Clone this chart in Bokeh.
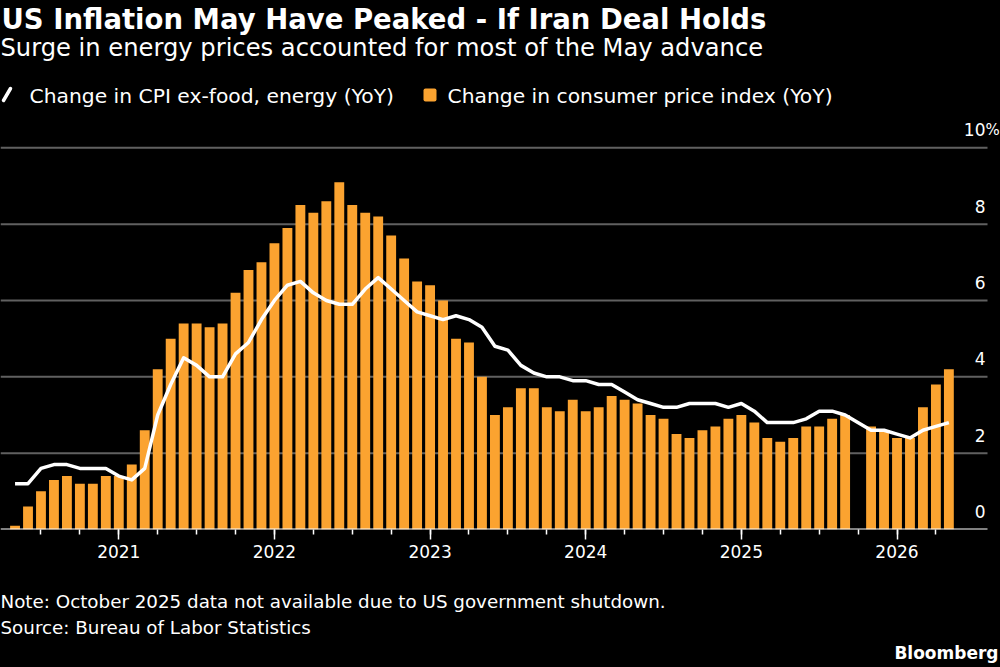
import pandas as pd
from bokeh.plotting import figure
from bokeh.layouts import column
from bokeh.models import Range1d, LinearAxis, FixedTicker, ColumnDataSource
from bokeh.core.properties import value
from bokeh.embed import file_html
from bokeh.resources import INLINE

# ---- data -------------------------------------------------------------
months = [p.strftime("%Y-%m") for p in pd.period_range("2020-05", "2026-05", freq="M")]

# Headline CPI, % change year over year (None = not published)
cpi = [
    0.1, 0.6, 1.0, 1.3, 1.4, 1.2, 1.2, 1.4,                       # 2020 May-Dec
    1.4, 1.7, 2.6, 4.2, 5.0, 5.4, 5.4, 5.3, 5.4, 6.2, 6.8, 7.0,   # 2021
    7.5, 7.9, 8.5, 8.3, 8.6, 9.1, 8.5, 8.3, 8.2, 7.7, 7.1, 6.5,   # 2022
    6.4, 6.0, 5.0, 4.9, 4.0, 3.0, 3.2, 3.7, 3.7, 3.2, 3.1, 3.4,   # 2023
    3.1, 3.2, 3.5, 3.4, 3.3, 3.0, 2.9, 2.5, 2.4, 2.6, 2.7, 2.9,   # 2024
    3.0, 2.8, 2.4, 2.3, 2.4, 2.7, 2.7, 2.9, 3.0, None, 2.7, 2.6,  # 2025
    2.4, 2.4, 3.2, 3.8, 4.2,                                      # 2026 Jan-May
]

# CPI excluding food and energy, % change year over year
core = [
    1.2, 1.2, 1.6, 1.7, 1.7, 1.6, 1.6, 1.6,
    1.4, 1.3, 1.6, 3.0, 3.8, 4.5, 4.3, 4.0, 4.0, 4.6, 4.9, 5.5,
    6.0, 6.4, 6.5, 6.2, 6.0, 5.9, 5.9, 6.3, 6.6, 6.3, 6.0, 5.7,
    5.6, 5.5, 5.6, 5.5, 5.3, 4.8, 4.7, 4.3, 4.1, 4.0, 4.0, 3.9,
    3.9, 3.8, 3.8, 3.6, 3.4, 3.3, 3.2, 3.2, 3.3, 3.3, 3.3, 3.2,
    3.3, 3.1, 2.8, 2.8, 2.8, 2.9, 3.1, 3.1, 3.0, None, 2.6, 2.6,
    2.5, 2.4, 2.6, 2.7, 2.8,
]

year_ticks = [2021, 2022, 2023, 2024, 2025, 2026]
y_ticks = [0, 2, 4, 6, 8, 10]
y_unit = "%"

title = "US Inflation May Have Peaked - If Iran Deal Holds"
subtitle = "Surge in energy prices accounted for most of the May advance"
core_label = "Change in CPI ex-food, energy (YoY)"
cpi_label = "Change in consumer price index (YoY)"
note = "Note: October 2025 data not available due to US government shutdown."
source = "Source: Bureau of Labor Statistics"
brand = "Bloomberg"

# ---- styling ----------------------------------------------------------
FONT = "DejaVu Sans"
ORANGE = "#FBA330"
GRID = "#606060"
W = 1000
HEAD_H, CHART_H, FOOT_H = 112, 468, 87
AXIS_H = 51                # space under the zero line for the time axis
PX_PER_MONTH = 12.97
PX_PER_UNIT = 38.17
ORIGIN_PX = 118.3          # horizontal pixel of January 2021
GRID_RIGHT_PX = 987
LABEL_RIGHT_PX = 985


def blank(height, y_top):
    """A frame that fills its canvas, with y measured downward in pixels."""
    f = figure(width=W, height=height, output_backend="svg",
               toolbar_location=None, x_range=Range1d(0, W),
               y_range=Range1d(y_top, 0), x_axis_type=None, y_axis_type=None,
               min_border=0, background_fill_color="black",
               border_fill_color="black", outline_line_color=None)
    return f


def write(f, text, x, y, size, bold=False, align="left"):
    f.text(x=[x], y=[y], text=[text], text_color="white",
           text_font=value(FONT), text_font_size=f"{size}px",
           text_font_style="bold" if bold else "normal",
           text_align=align, text_baseline="alphabetic")


# ---- header with title and legend ---------------------------------------
head = blank(HEAD_H, HEAD_H)
write(head, title, 1, 18, 27.5, bold=True)
write(head, subtitle, 0, 47, 24.2)
head.segment(x0=[3], y0=[100], x1=[10], y1=[88], line_color="white",
             line_width=3.5, line_cap="round")
write(head, core_label, 29, 95, 20.3)
head.quad(left=[423], right=[436], top=[88], bottom=[101],
          fill_color=ORANGE, line_color=None, border_radius=2)
write(head, cpi_label, 447, 95, 20.3)

# ---- chart ------------------------------------------------------------
def month_index(ym):
    y, m = map(int, ym.split("-"))
    return (y - 2021) * 12 + (m - 1)

x = [month_index(m) for m in months]
bar_src = ColumnDataSource(dict(
    x=[xi for xi, v in zip(x, cpi) if v is not None],
    top=[v for v in cpi if v is not None]))
line_src = ColumnDataSource(dict(
    x=[xi for xi, v in zip(x, core) if v is not None],
    y=[v for v in core if v is not None]))

x_start = -ORIGIN_PX / PX_PER_MONTH
x_end = (W - ORIGIN_PX) / PX_PER_MONTH
grid_end = (GRID_RIGHT_PX - ORIGIN_PX) / PX_PER_MONTH
label_x = (LABEL_RIGHT_PX - ORIGIN_PX) / PX_PER_MONTH
y_end = (CHART_H - AXIS_H) / PX_PER_UNIT

p = figure(width=W, height=CHART_H, output_backend="svg", toolbar_location=None,
           x_range=Range1d(x_start, x_end), y_range=Range1d(0, y_end),
           x_axis_type=None, y_axis_type=None,
           min_border_left=0, min_border_right=0,
           min_border_top=0, min_border_bottom=AXIS_H,
           background_fill_color="black", border_fill_color="black",
           outline_line_color=None)

# horizontal gridlines (under the bars); the zero line is drawn last in white
grid_vals = [v for v in y_ticks if v != 0]
p.segment(x0=[x_start] * len(grid_vals), x1=[grid_end] * len(grid_vals),
          y0=grid_vals, y1=grid_vals, line_color=GRID, line_width=2)

p.vbar(x="x", top="top", width=0.76, source=bar_src,
       fill_color=ORANGE, line_color=None)

p.line(x="x", y="y", source=line_src, line_color="white", line_width=3.5,
       line_join="round")

p.segment(x0=[x_start], x1=[grid_end], y0=[0], y1=[0],
          line_color="white", line_width=2)

# value labels sitting on the right end of each gridline
p.text(x=[label_x] * len(y_ticks), y=y_ticks, text=[str(v) for v in y_ticks],
       text_align="right", text_baseline="alphabetic", y_offset=-18,
       text_color="white", text_font=value(FONT), text_font_size="17px")
p.text(x=[label_x], y=[y_ticks[-1]], text=[y_unit],
       text_align="left", text_baseline="alphabetic", y_offset=-18,
       text_color="white", text_font=value(FONT), text_font_size="15px")

# time axis: years as major ticks, quarters as minor ticks
month_ticks = [(yr - 2021) * 12 for yr in year_ticks]
xaxis = LinearAxis(
    ticker=FixedTicker(ticks=month_ticks, minor_ticks=list(range(-6, 64, 3))),
    major_label_overrides={t: str(yr) for t, yr in zip(month_ticks, year_ticks)},
    axis_line_color=None,
    major_tick_line_color="white", minor_tick_line_color="white",
    major_tick_line_width=1.5, minor_tick_line_width=1.5,
    major_tick_in=0, major_tick_out=10, minor_tick_in=0, minor_tick_out=5,
    major_label_standoff=5,
    major_label_text_color="white", major_label_text_font=FONT,
    major_label_text_font_size="17px")
p.add_layout(xaxis, "below")

# ---- footer -----------------------------------------------------------
foot = blank(FOOT_H, FOOT_H)
write(foot, note, 0, 21, 18.3)
write(foot, source, 0, 47, 18.3)
write(foot, brand, 998, 72, 17, bold=True, align="right")

layout = column(head, p, foot, spacing=0,
                styles={"background-color": "black"})
html = file_html(layout, INLINE)
html = html.replace("<body>", '<body style="margin:0;background:#000">', 1)
open("out.html", "w").write(html)
